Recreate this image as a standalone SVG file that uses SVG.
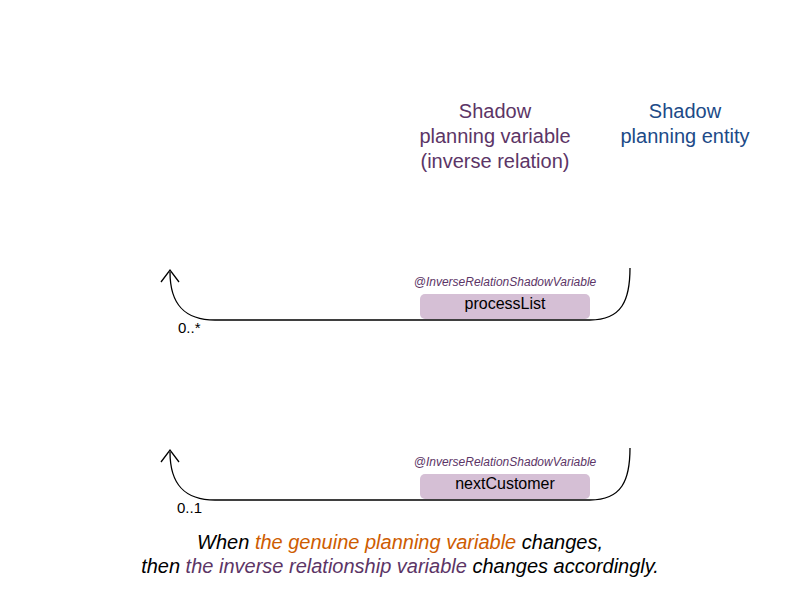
<svg xmlns="http://www.w3.org/2000/svg" width="800" height="600" viewBox="0 0 800 600">
<style>
text{font-family:"Liberation Sans",Arial,sans-serif}
.hdr{font-size:20px;text-anchor:middle}
.pv{fill:#5c3566}
.pe{fill:#204a87}
.ann{font-size:12px;font-style:italic;fill:#5c3566;text-anchor:middle}
.pill{fill:#d5bfd5}
.lbl{font-size:16px;fill:#000;text-anchor:middle}
.mult{font-size:15px;fill:#000}
.conn{fill:none;stroke:#000;stroke-width:1.3}
.cap{font-size:20px;font-style:italic;text-anchor:middle;fill:#000}
.or{fill:#ce5c00}
</style>
<rect width="800" height="600" fill="#fff"/>
<g id="header-variable">
<text class="hdr pv" x="495" y="118">Shadow</text>
<text class="hdr pv" x="495" y="143">planning variable</text>
<text class="hdr pv" x="495" y="168">(inverse relation)</text>
</g>
<g id="header-entity">
<text class="hdr pe" x="685" y="118">Shadow</text>
<text class="hdr pe" x="685" y="143">planning entity</text>
</g>
<g id="connectors">
<path class="conn" d="M630,268 C630,300 622,320 590,320 L215,320 C185,320 170,305 170,272"/>
<polyline class="conn" points="161,282 170,270 179,282"/>
<path class="conn" d="M630,448 C630,480 622,500 590,500 L215,500 C185,500 170,485 170,452"/>
<polyline class="conn" points="161,462 170,450 179,462"/>
</g>
<g id="processList">
<text class="ann" x="505" y="286">@InverseRelationShadowVariable</text>
<rect class="pill" x="420" y="294" width="170" height="25" rx="5"/>
<text class="lbl" x="505" y="309">processList</text>
<text class="mult" x="178" y="333">0..*</text>
</g>
<g id="nextCustomer">
<text class="ann" x="505" y="466">@InverseRelationShadowVariable</text>
<rect class="pill" x="420" y="474" width="170" height="25" rx="5"/>
<text class="lbl" x="505" y="489">nextCustomer</text>
<text class="mult" x="177" y="513">0..1</text>
</g>
<g id="caption">
<text class="cap" x="400" y="549">When <tspan class="or">the genuine planning variable</tspan> changes,</text>
<text class="cap" x="400" y="573">then <tspan class="pv">the inverse relationship variable</tspan> changes accordingly.</text>
</g>
</svg>
